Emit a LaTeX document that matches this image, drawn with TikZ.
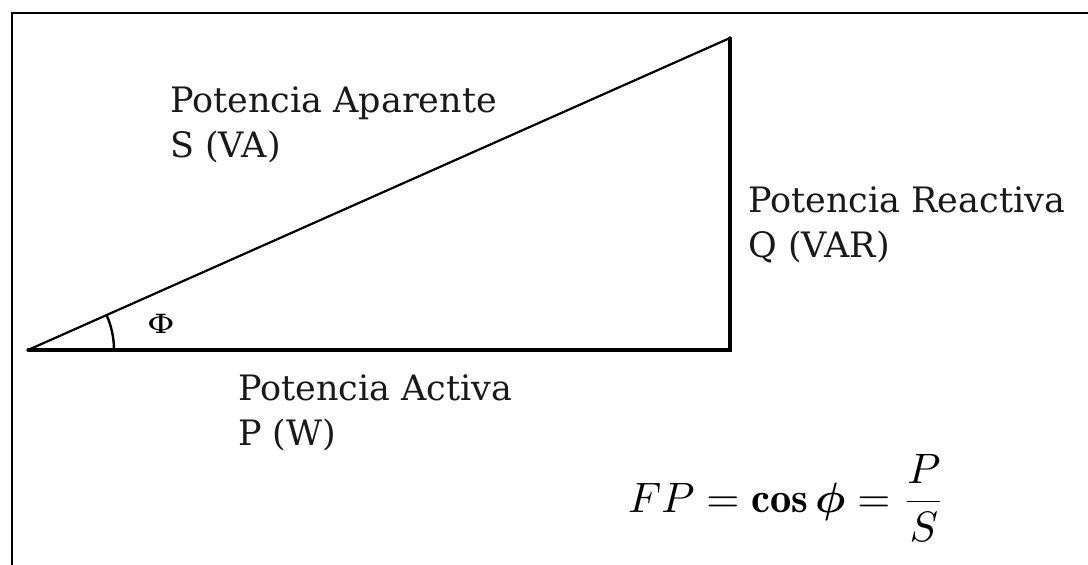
\documentclass[tikz,border=0pt]{standalone}
\usepackage{fontspec}
\usepackage{bm}
\newfontfamily\lblfont{DejaVu Serif}
\tikzset{
  lbl/.style={anchor=base west, inner sep=0pt, font=\lblfont\fontsize{35}{40}\selectfont, text=black!90},
  side/.style={line width=3.2pt, line cap=round},
  hyp/.style={line width=2.2pt},
  frame/.style={line width=2.4pt},
}
\begin{document}
\begin{tikzpicture}[x=1pt,y=-1pt]
\useasboundingbox (0,0) rectangle (1088,565);
% frame
\coordinate (ftr) at (1088,13);
\coordinate (ftl) at (12,13);
\coordinate (fbl) at (12,565);
\draw[frame] (ftr) -- (ftl) -- (fbl);
% triangle
\coordinate (A) at (28,350);
\coordinate (B) at (730,350);
\coordinate (C) at (730,38);
\draw[side] (A) -- (B) -- (C);
\draw[hyp] (A) -- (C);
% angle arc
\draw[line width=2.4pt] ([shift={(0:86)}]A) arc[start angle=0, end angle=-24, radius=86];
\node[inner sep=0pt, font=\lblfont\fontsize{30}{32}\selectfont] (phi) at (161,324) {\scalebox{1.1}[0.88]{Φ}};
% labels
\node[lbl] (ap1) at (170,112) {Potencia Aparente};
\node[lbl] (ap2) at (170,157) {S (VA)};
\node[lbl] (re1) at (748,212) {Potencia Reactiva};
\node[lbl] (re2) at (748,257) {Q (VAR)};
\node[lbl] (ac1) at (238,400) {Potencia Activa};
\node[lbl] (ac2) at (238,445) {P (W)};
% formula
\node[anchor=base west, inner sep=0pt] (fp) at (628,512)
  {\scalebox{4.25}{$\displaystyle FP=\mathbf{cos}\,\bm{\phi}=\frac{P}{S}$}};
\end{tikzpicture}
\end{document}
